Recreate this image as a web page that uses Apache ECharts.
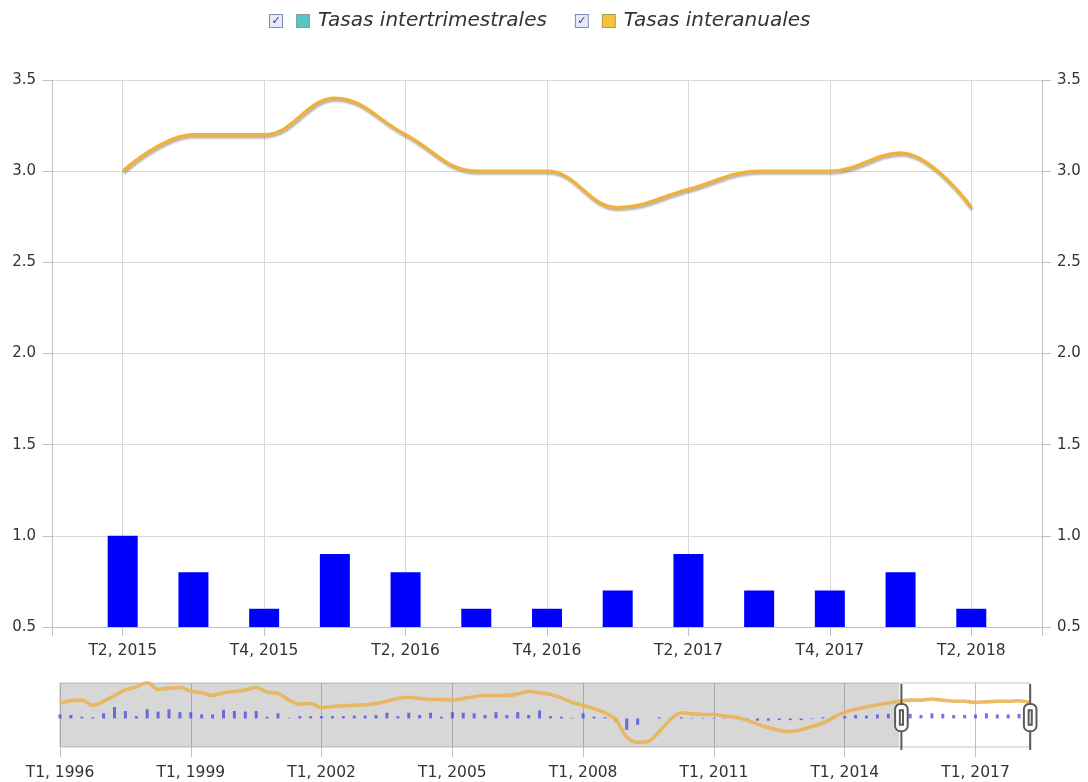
<!DOCTYPE html>
<html><head><meta charset="utf-8">
<script src="https://cdn.jsdelivr.net/npm/echarts@6/dist/echarts.min.js"></script>
<style>html,body{margin:0;padding:0;background:#fff}#c{width:1088px;height:782px}</style>
</head><body><div id="c"></div>
<script>
// ---- data ----
const quarters = [
 'T1, 1996','T2, 1996','T3, 1996','T4, 1996','T1, 1997','T2, 1997','T3, 1997','T4, 1997',
 'T1, 1998','T2, 1998','T3, 1998','T4, 1998','T1, 1999','T2, 1999','T3, 1999','T4, 1999',
 'T1, 2000','T2, 2000','T3, 2000','T4, 2000','T1, 2001','T2, 2001','T3, 2001','T4, 2001',
 'T1, 2002','T2, 2002','T3, 2002','T4, 2002','T1, 2003','T2, 2003','T3, 2003','T4, 2003',
 'T1, 2004','T2, 2004','T3, 2004','T4, 2004','T1, 2005','T2, 2005','T3, 2005','T4, 2005',
 'T1, 2006','T2, 2006','T3, 2006','T4, 2006','T1, 2007','T2, 2007','T3, 2007','T4, 2007',
 'T1, 2008','T2, 2008','T3, 2008','T4, 2008','T1, 2009','T2, 2009','T3, 2009','T4, 2009',
 'T1, 2010','T2, 2010','T3, 2010','T4, 2010','T1, 2011','T2, 2011','T3, 2011','T4, 2011',
 'T1, 2012','T2, 2012','T3, 2012','T4, 2012','T1, 2013','T2, 2013','T3, 2013','T4, 2013',
 'T1, 2014','T2, 2014','T3, 2014','T4, 2014','T1, 2015','T2, 2015','T3, 2015','T4, 2015',
 'T1, 2016','T2, 2016','T3, 2016','T4, 2016','T1, 2017','T2, 2017','T3, 2017','T4, 2017',
 'T1, 2018','T2, 2018'
];
const padBefore = 'T1, 2015';
const padAfter = 'T3, 2018';
const interanual = [
 2.7, 3.1, 3.2, 2.3,  3.0, 4.0, 5.0, 5.5,  6.3, 5.1, 5.3, 5.4,  4.8, 4.5, 4.0, 4.5,
 4.7, 5.0, 5.4, 4.6,  4.4, 3.2, 2.5, 2.6,  1.9, 2.1, 2.2, 2.3,  2.4, 2.6, 3.0, 3.5,
 3.7, 3.5, 3.3, 3.3,  3.2, 3.5, 3.8, 4.0,  4.0, 4.0, 4.3, 4.7,  4.5, 4.2, 3.6, 2.8,
 2.3, 1.7, 1.0, -0.2, -3.3, -4.2, -4.0, -2.3, -0.2, 1.0, 0.8, 0.7,  0.7, 0.4, 0.2, -0.3,
 -1.0, -1.6, -2.1, -2.3, -2.0, -1.4, -0.8, 0.2,  1.1, 1.6, 2.0, 2.4,  2.7, 3.0, 3.2, 3.2,
 3.4, 3.2, 3.0, 3.0,  2.8, 2.9, 3.0, 3.0,  3.1, 2.8
];
const intertrimestral = [
 0.7, 0.6, 0.3, 0.2,  0.9, 2.0, 1.3, 0.4,  1.6, 1.2, 1.6, 1.1,  1.1, 0.7, 0.7, 1.5,
 1.3, 1.2, 1.3, 0.3,  0.9, 0.1, 0.4, 0.4,  0.4, 0.4, 0.4, 0.5,  0.5, 0.6, 1.0, 0.4,
 1.0, 0.6, 1.0, 0.3,  1.1, 1.0, 0.9, 0.6,  1.1, 0.6, 1.1, 0.6,  1.4, 0.4, 0.3, 0.1,
 0.9, 0.3, 0.2, -0.6, -2.0, -1.1, 0.0, 0.2,  0.1, 0.2, 0.1, 0.1,  0.1, 0.1, -0.1, -0.3,
 -0.4, -0.4, -0.3, -0.3, -0.3, -0.1, 0.2, 0.3,  0.4, 0.6, 0.5, 0.7,  0.8, 1.0, 0.8, 0.6,
 0.9, 0.8, 0.6, 0.6,  0.7, 0.9, 0.7, 0.7,  0.8, 0.6
];
const yTicks = [0.5, 1.0, 1.5, 2.0, 2.5, 3.0, 3.5];
const seriesNames = ['Tasas intertrimestrales', 'Tasas interanuales'];
const windowStart = quarters.indexOf('T2, 2015');
const windowEnd = quarters.length - 1;

// main window: one empty category of padding on each side
const mainCats = [padBefore].concat(quarters.slice(windowStart, windowEnd + 1), [padAfter]);
const mainBars = [null].concat(intertrimestral.slice(windowStart, windowEnd + 1), [null]);
const mainLine = [null].concat(interanual.slice(windowStart, windowEnd + 1), [null]);

// ---- layout ----
const FONT = 'DejaVu Sans';
const navLeft = 60, navRight = 1030;
const sliderLeft = navLeft + windowStart / (quarters.length - 1) * (navRight - navLeft);
const lastMain = mainCats.length - 1;

const chart = echarts.init(document.getElementById('c'), null, {renderer: 'canvas'});
const handlePath = 'path://M0,0V18M0,44V63M-6,23A5,5,0,0,1,-1,18H1A5,5,0,0,1,6,23V39A5,5,0,0,1,1,44H-1A5,5,0,0,1,-6,39ZM-1.5,24H1.5V38H-1.5Z';

chart.setOption({
  animation: false,
  textStyle: {fontFamily: FONT},
  legend: {
    top: 6, left: 260, icon: 'none', itemWidth: 0, itemHeight: 16, itemGap: 24,
    data: seriesNames,
    formatter: name => '{cb|✓}{g1|}{' + (name === seriesNames[0] ? 'sq1' : 'sq2') + '|}{g2|}{t|' + name + '}',
    textStyle: {
      fontFamily: FONT,
      rich: {
        cb: {width: 12, height: 12, lineHeight: 13, align: 'center', borderColor: '#7d8cc0', borderWidth: 1,
             backgroundColor: '#e6eaf8', color: '#26369a', fontSize: 11, fontWeight: 'bold', fontFamily: FONT},
        g1: {width: 15},
        sq1: {width: 12, height: 12, backgroundColor: '#55c6c6', borderColor: '#7fa0a0', borderWidth: 1},
        sq2: {width: 12, height: 12, backgroundColor: '#f7c23e', borderColor: '#b59a55', borderWidth: 1},
        g2: {width: 9},
        t: {fontStyle: 'italic', fontSize: 20, color: '#333', fontFamily: FONT}
      }
    }
  },
  grid: [
    {left: 52, right: 46, top: 80, height: 547},
    {left: navLeft, right: 1088 - navRight, top: 683, height: 64, show: true,
     backgroundColor: '#fff', borderColor: '#c4c4c4', borderWidth: 1}
  ],
  xAxis: [
    {type: 'category', gridIndex: 0, data: mainCats, boundaryGap: false,
     axisLine: {show: true, onZero: false, lineStyle: {color: '#c0c0c0'}},
     axisTick: {show: true, length: 9, interval: i => i % 2 === 1 || i === 0 || i === lastMain, lineStyle: {color: '#c0c0c0'}},
     axisLabel: {interval: i => i % 2 === 1, margin: 16, color: '#333', fontSize: 15.5, fontFamily: FONT},
     splitLine: {show: true, interval: i => i % 2 === 1, lineStyle: {color: '#d9d9d9'}}},
    {type: 'category', gridIndex: 1, data: quarters, boundaryGap: false,
     axisLine: {show: false, onZero: false},
     axisTick: {show: true, length: 10, interval: i => i % 12 === 0, lineStyle: {color: '#c0c0c0'}},
     axisLabel: {interval: i => i % 12 === 0, margin: 18, color: '#333', fontSize: 15.5, fontFamily: FONT},
     splitLine: {show: true, interval: i => i % 12 === 0, lineStyle: {color: '#c0c0c0'}}}
  ],
  yAxis: [
    {type: 'value', gridIndex: 0, position: 'left', min: yTicks[0], max: yTicks[yTicks.length - 1], interval: 0.5,
     axisLine: {show: true, onZero: false, lineStyle: {color: '#c0c0c0'}},
     axisTick: {show: true, length: 9, lineStyle: {color: '#c0c0c0'}},
     axisLabel: {formatter: v => v.toFixed(1), margin: 16, color: '#333', fontSize: 15, fontFamily: FONT},
     splitLine: {show: true, lineStyle: {color: '#d9d9d9'}}},
    {type: 'value', gridIndex: 0, position: 'right', min: yTicks[0], max: yTicks[yTicks.length - 1], interval: 0.5,
     axisLine: {show: true, onZero: false, lineStyle: {color: '#c0c0c0'}},
     axisTick: {show: true, length: 9, lineStyle: {color: '#c0c0c0'}},
     axisLabel: {formatter: v => v.toFixed(1), margin: 15, color: '#333', fontSize: 15, fontFamily: FONT},
     splitLine: {show: false}},
    {type: 'value', gridIndex: 1, min: -5, max: 6.2, show: false}
  ],
  dataZoom: [{
    type: 'slider', xAxisIndex: 0, start: 0, end: 100,
    left: sliderLeft, right: 1088 - navRight, top: 684, height: 66,
    showDetail: false, showDataShadow: false, brushSelect: false,
    backgroundColor: 'rgba(0,0,0,0)', fillerColor: 'rgba(0,0,0,0)', borderColor: 'rgba(0,0,0,0)',
    handleIcon: handlePath, handleSize: '100%',
    handleStyle: {color: '#fff', borderColor: '#5a5a5a', borderWidth: 2},
    moveHandleSize: 0,
    emphasis: {handleStyle: {color: '#fff', borderColor: '#5a5a5a', borderWidth: 2}}
  }],
  series: [
    {name: seriesNames[0], type: 'bar', xAxisIndex: 0, yAxisIndex: 0, data: mainBars,
     barWidth: 30, itemStyle: {color: '#0000ff'}},
    {name: seriesNames[1], type: 'line', xAxisIndex: 0, yAxisIndex: 0, data: mainLine,
     smooth: 0.4, showSymbol: false, connectNulls: false,
     lineStyle: {width: 3.4, color: '#f0b13c', shadowColor: 'rgba(0,0,0,0.3)', shadowBlur: 2, shadowOffsetX: 1, shadowOffsetY: 2},
     itemStyle: {color: '#f0b13c'}},
    {name: seriesNames[1], type: 'line', xAxisIndex: 1, yAxisIndex: 2, data: interanual,
     smooth: 0.3, showSymbol: false, silent: true,
     lineStyle: {width: 3.6, color: '#eab456', opacity: 0.9},
     itemStyle: {color: '#eab456'},
     markArea: {silent: true, itemStyle: {color: 'rgba(110,110,110,0.28)'},
       data: [[{xAxis: quarters[0]}, {xAxis: quarters[windowStart]}]]}},
    {name: seriesNames[0], type: 'bar', xAxisIndex: 1, yAxisIndex: 2, data: intertrimestral,
     barWidth: 3, silent: true, itemStyle: {color: 'rgba(70,70,225,0.75)'}}
  ]
});
</script></body></html>
